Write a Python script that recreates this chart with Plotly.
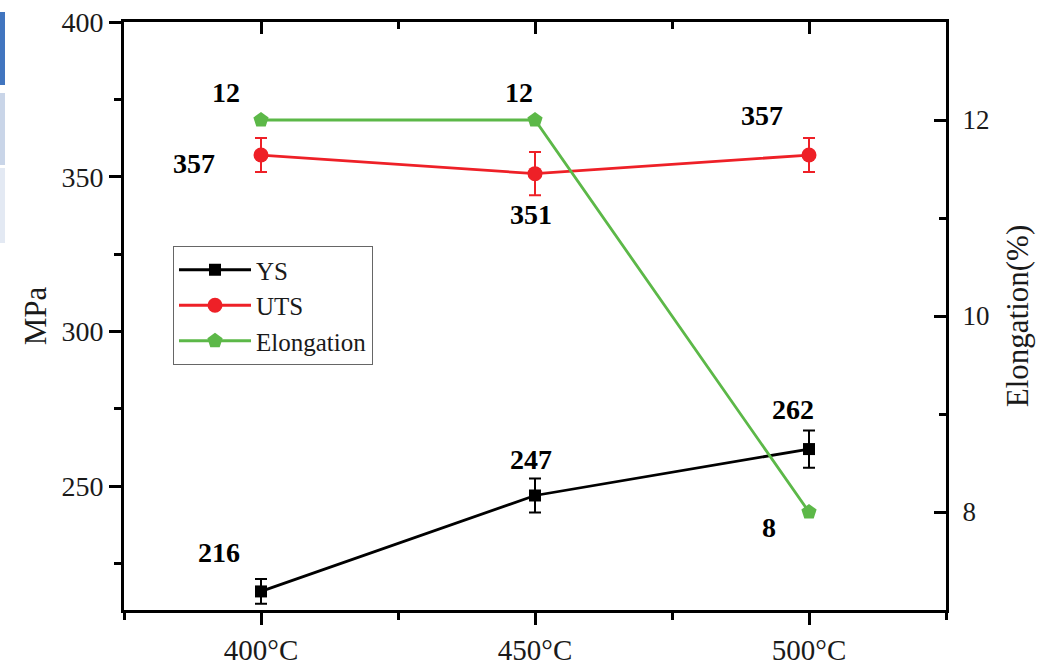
import plotly.graph_objects as go

# ---- data ----
temps = ["400°C", "450°C", "500°C"]
xpos = [0, 1, 2]
ys_vals = [216, 247, 262]
ys_err = [4, 5.5, 6]
uts_vals = [357, 351, 357]
uts_err = [5.5, 7, 5.5]
elong_vals = [12, 12, 8]

left_ticks = [250, 300, 350, 400]
left_minor = [225, 275, 325, 375]
right_ticks = [8, 10, 12]
right_minor = [9, 11]

FONT = "Liberation Serif, Times New Roman, serif"
BLACK = "#000000"
RED = "#ee2027"
GREEN = "#5cb848"
TXT = "#1a1a1a"

W, H = 1041, 665
ML, MT, MR, MB = 124, 22, 95, 55
PW, PH = W - ML - MR, H - MT - MB

fig = go.Figure()

fig.add_trace(go.Scatter(
    x=xpos, y=ys_vals, name="YS", mode="lines+markers",
    line=dict(color=BLACK, width=2.8),
    marker=dict(symbol="square", size=12, color=BLACK),
    error_y=dict(type="data", array=ys_err, color=BLACK, thickness=2, width=6),
))
fig.add_trace(go.Scatter(
    x=xpos, y=uts_vals, name="UTS", mode="lines+markers",
    line=dict(color=RED, width=2.8),
    marker=dict(symbol="circle", size=15, color=RED),
    error_y=dict(type="data", array=uts_err, color=RED, thickness=2, width=6),
))
fig.add_trace(go.Scatter(
    x=xpos, y=elong_vals, name="Elongation", mode="lines+markers",
    line=dict(color=GREEN, width=2.8),
    marker=dict(symbol="pentagon", size=16, color=GREEN),
    yaxis="y2",
))
# invisible trace to make the top (mirror) axis render
fig.add_trace(go.Scatter(
    x=xpos, y=ys_vals, xaxis="x2", mode="markers", showlegend=False,
    marker=dict(opacity=0), hoverinfo="skip",
))

# value labels: (x index, value, text, xshift, yshift, axis)
labels = [
    (0, ys_vals[0], "216", -42, 39, "y"),
    (1, ys_vals[1], "247", -4, 36, "y"),
    (2, ys_vals[2], "262", -16, 40, "y"),
    (0, uts_vals[0], "357", -67, -8, "y"),
    (1, uts_vals[1], "351", -4, -41, "y"),
    (2, uts_vals[2], "357", -47, 40, "y"),
    (0, elong_vals[0], "12", -35, 28, "y2"),
    (1, elong_vals[1], "12", -16, 28, "y2"),
    (2, elong_vals[2], "8", -40, -15, "y2"),
]
for xi, val, txt, dx, dy, ax in labels:
    fig.add_annotation(
        x=xi, y=val, xref="x", yref=ax, text=f"<b>{txt}</b>", showarrow=False,
        xshift=dx, yshift=dy, font=dict(family=FONT, size=28, color=BLACK),
    )

axis_common = dict(showline=True, linecolor=BLACK, linewidth=3, showgrid=False,
                   zeroline=False, tickcolor=BLACK, tickwidth=3, ticklen=12,
                   automargin=False, ticklabeloverflow="allow")

fig.update_layout(
    template="none",
    width=W, height=H,
    margin=dict(l=ML, r=MR, t=MT, b=MB, pad=0),
    paper_bgcolor="white", plot_bgcolor="white",
    font=dict(family=FONT, color=TXT),
    xaxis=dict(
        **axis_common, range=[-0.5, 2.5], tickmode="array", tickvals=xpos,
        ticktext=temps, ticks="outside", tickfont=dict(size=29, family=FONT, color=TXT),
        minor=dict(tickvals=[-0.5, 0.5, 1.5, 2.5], ticks="outside", ticklen=7,
                   tickwidth=3, tickcolor=BLACK),
    ),
    xaxis2=dict(
        **axis_common, range=[-0.5, 2.5], overlaying="x", side="top",
        tickmode="array", tickvals=xpos, showticklabels=False, ticks="inside",
        minor=dict(tickvals=[-0.5, 0.5, 1.5, 2.5], ticks="inside", ticklen=7,
                   tickwidth=3, tickcolor=BLACK),
    ),
    yaxis=dict(
        **axis_common, range=[210, 400], tickmode="array", tickvals=left_ticks,
        ticks="outside", tickfont=dict(size=28, family=FONT, color=TXT),
        minor=dict(tickvals=left_minor, ticks="outside", ticklen=7,
                   tickwidth=3, tickcolor=BLACK),
        title=dict(text="MPa", font=dict(size=31, family=FONT, color=TXT), standoff=6),
    ),
    yaxis2=dict(
        **axis_common, range=[7, 13], overlaying="y", side="right",
        tickmode="array", tickvals=right_ticks, ticks="inside",
        ticklabelstandoff=8,
        tickfont=dict(size=27, family=FONT, color=TXT),
        minor=dict(tickvals=right_minor, ticks="inside", ticklen=7,
                   tickwidth=3, tickcolor=BLACK),
        title=dict(text="Elongation(%)", font=dict(size=31, family=FONT, color=TXT), standoff=18),
    ),
    legend=dict(
        x=(173 - ML) / PW, y=1 - (246 - MT) / PH, xanchor="left", yanchor="top",
        bgcolor="white", bordercolor="#666666", borderwidth=1,
        font=dict(size=25, family=FONT, color=TXT),
        tracegroupgap=0, itemwidth=72,
    ),
    showlegend=True,
)

# decorative strips on the left edge of the original screenshot
strips = [(12, 85, "#4175bf"), (93, 165, "#c9d5e8"), (168, 243, "#e3e9f3")]
for top, bot, col in strips:
    fig.add_shape(
        type="rect", xref="paper", yref="paper",
        x0=(0 - ML) / PW, x1=(5 - ML) / PW,
        y0=1 - (bot - MT) / PH, y1=1 - (top - MT) / PH,
        fillcolor=col, line=dict(width=0), layer="above",
    )

fig.write_html("out.html", config={"displayModeBar": False},
               post_script="document.body.style.margin='0';document.body.style.padding='0';")
